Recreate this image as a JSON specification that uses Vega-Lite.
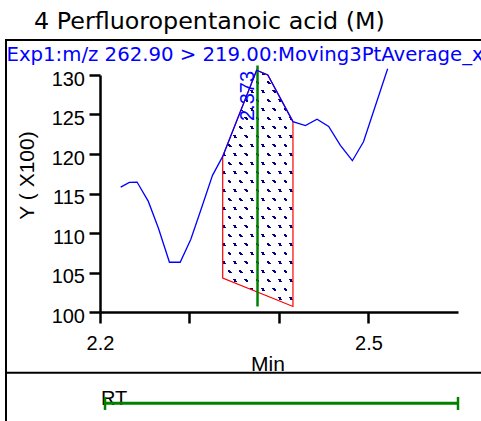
{
  "$schema": "https://vega.github.io/schema/vega-lite/v6.json",
  "width": 481,
  "height": 421,
  "autosize": {"type": "none"},
  "padding": 0,
  "background": "white",
  "config": {"view": {"stroke": null}, "font": "Liberation Sans", "axis": {"grid": false}},
  "datasets": {
    "chrom": [
      {"t": 2.2231, "y": 115.8},
      {"t": 2.2328, "y": 116.4},
      {"t": 2.2414, "y": 116.45},
      {"t": 2.2540, "y": 114.0},
      {"t": 2.2653, "y": 110.6},
      {"t": 2.2776, "y": 106.3},
      {"t": 2.2896, "y": 106.3},
      {"t": 2.3015, "y": 109.2},
      {"t": 2.3138, "y": 113.3},
      {"t": 2.3257, "y": 117.3},
      {"t": 2.3371, "y": 119.7, "base": 104.3},
      {"t": 2.3750, "y": 130.6, "base": 102.56},
      {"t": 2.3875, "y": 130.0, "base": 101.99},
      {"t": 2.4156, "y": 124.1, "base": 100.7},
      {"t": 2.4295, "y": 123.6},
      {"t": 2.4425, "y": 124.4},
      {"t": 2.4555, "y": 123.5},
      {"t": 2.4686, "y": 121.1},
      {"t": 2.4820, "y": 119.15},
      {"t": 2.4944, "y": 121.55},
      {"t": 2.5214, "y": 130.8}
    ],
    "peak": [{"rt": 2.376, "label": "2.373", "bottom": 100.7, "top": 131.2}],
    "rtwin": [{"start": 2.2056, "end": 2.6, "name": "RT"}]
  },
  "layer": [
    {
      "data": {"values": [{}]},
      "mark": {"type": "rule", "color": "black", "strokeWidth": 2},
      "encoding": {
        "x": {"datum": 2.09497, "type": "quantitative", "scale": {"domain": [2.2, 2.6], "range": [100, 458], "nice": false, "zero": false}},
        "x2": {"datum": 2.67},
        "y": {"datum": 134.43, "type": "quantitative", "scale": {"domain": [100, 130], "range": [312, 75], "nice": false, "zero": false}}
      }
    },
    {
      "data": {"values": [{}]},
      "mark": {"type": "rule", "color": "black", "strokeWidth": 2},
      "encoding": {
        "x": {"datum": 2.09497, "type": "quantitative", "scale": {"domain": [2.2, 2.6], "range": [100, 458], "nice": false, "zero": false}},
        "x2": {"datum": 2.67},
        "y": {"datum": 92.3, "type": "quantitative", "scale": {"domain": [100, 130], "range": [312, 75], "nice": false, "zero": false}}
      }
    },
    {
      "data": {"values": [{}]},
      "mark": {"type": "rule", "color": "black", "strokeWidth": 2},
      "encoding": {
        "x": {"datum": 2.09497, "type": "quantitative", "scale": {"domain": [2.2, 2.6], "range": [100, 458], "nice": false, "zero": false}},
        "y": {"datum": 134.56, "type": "quantitative", "scale": {"domain": [100, 130], "range": [312, 75], "nice": false, "zero": false}},
        "y2": {"datum": 84}
      }
    },
    {
      "data": {"name": "chrom"},
      "transform": [{"filter": "isValid(datum.base)"}],
      "mark": {"type": "area", "fill": "#000080", "fillOpacity": 1},
      "encoding": {
        "x": {"field": "t", "type": "quantitative", "scale": {"domain": [2.2, 2.6], "range": [100, 458], "nice": false, "zero": false}},
        "y": {"field": "y", "type": "quantitative", "scale": {"domain": [100, 130], "range": [312, 75], "nice": false, "zero": false}},
        "y2": {"field": "base"}
      }
    },
    {
      "data": {"name": "chrom"},
      "transform": [{"filter": "isValid(datum.base)"}],
      "mark": {
        "type": "area",
        "fill": {
          "gradient": "linear", "x1": 0, "y1": 0, "x2": 0, "y2": 1,
          "stops": [
            {"offset": 0, "color": "#ffffff"},
            {"offset": 0.0072, "color": "#ffffff"}, {"offset": 0.0072, "color": "rgba(255,255,255,0)"}, {"offset": 0.0186, "color": "rgba(255,255,255,0)"}, {"offset": 0.0186, "color": "#ffffff"},
            {"offset": 0.0453, "color": "#ffffff"}, {"offset": 0.0453, "color": "rgba(255,255,255,0)"}, {"offset": 0.0567, "color": "rgba(255,255,255,0)"}, {"offset": 0.0567, "color": "#ffffff"},
            {"offset": 0.0834, "color": "#ffffff"}, {"offset": 0.0834, "color": "rgba(255,255,255,0)"}, {"offset": 0.0948, "color": "rgba(255,255,255,0)"}, {"offset": 0.0948, "color": "#ffffff"},
            {"offset": 0.1215, "color": "#ffffff"}, {"offset": 0.1215, "color": "rgba(255,255,255,0)"}, {"offset": 0.1329, "color": "rgba(255,255,255,0)"}, {"offset": 0.1329, "color": "#ffffff"},
            {"offset": 0.1596, "color": "#ffffff"}, {"offset": 0.1596, "color": "rgba(255,255,255,0)"}, {"offset": 0.1710, "color": "rgba(255,255,255,0)"}, {"offset": 0.1710, "color": "#ffffff"},
            {"offset": 0.1977, "color": "#ffffff"}, {"offset": 0.1977, "color": "rgba(255,255,255,0)"}, {"offset": 0.2091, "color": "rgba(255,255,255,0)"}, {"offset": 0.2091, "color": "#ffffff"},
            {"offset": 0.2358, "color": "#ffffff"}, {"offset": 0.2358, "color": "rgba(255,255,255,0)"}, {"offset": 0.2472, "color": "rgba(255,255,255,0)"}, {"offset": 0.2472, "color": "#ffffff"},
            {"offset": 0.2739, "color": "#ffffff"}, {"offset": 0.2739, "color": "rgba(255,255,255,0)"}, {"offset": 0.2853, "color": "rgba(255,255,255,0)"}, {"offset": 0.2853, "color": "#ffffff"},
            {"offset": 0.3120, "color": "#ffffff"}, {"offset": 0.3120, "color": "rgba(255,255,255,0)"}, {"offset": 0.3234, "color": "rgba(255,255,255,0)"}, {"offset": 0.3234, "color": "#ffffff"},
            {"offset": 0.3501, "color": "#ffffff"}, {"offset": 0.3501, "color": "rgba(255,255,255,0)"}, {"offset": 0.3615, "color": "rgba(255,255,255,0)"}, {"offset": 0.3615, "color": "#ffffff"},
            {"offset": 0.3882, "color": "#ffffff"}, {"offset": 0.3882, "color": "rgba(255,255,255,0)"}, {"offset": 0.3996, "color": "rgba(255,255,255,0)"}, {"offset": 0.3996, "color": "#ffffff"},
            {"offset": 0.4263, "color": "#ffffff"}, {"offset": 0.4263, "color": "rgba(255,255,255,0)"}, {"offset": 0.4377, "color": "rgba(255,255,255,0)"}, {"offset": 0.4377, "color": "#ffffff"},
            {"offset": 0.4644, "color": "#ffffff"}, {"offset": 0.4644, "color": "rgba(255,255,255,0)"}, {"offset": 0.4758, "color": "rgba(255,255,255,0)"}, {"offset": 0.4758, "color": "#ffffff"},
            {"offset": 0.5025, "color": "#ffffff"}, {"offset": 0.5025, "color": "rgba(255,255,255,0)"}, {"offset": 0.5139, "color": "rgba(255,255,255,0)"}, {"offset": 0.5139, "color": "#ffffff"},
            {"offset": 0.5406, "color": "#ffffff"}, {"offset": 0.5406, "color": "rgba(255,255,255,0)"}, {"offset": 0.5520, "color": "rgba(255,255,255,0)"}, {"offset": 0.5520, "color": "#ffffff"},
            {"offset": 0.5787, "color": "#ffffff"}, {"offset": 0.5787, "color": "rgba(255,255,255,0)"}, {"offset": 0.5901, "color": "rgba(255,255,255,0)"}, {"offset": 0.5901, "color": "#ffffff"},
            {"offset": 0.6168, "color": "#ffffff"}, {"offset": 0.6168, "color": "rgba(255,255,255,0)"}, {"offset": 0.6282, "color": "rgba(255,255,255,0)"}, {"offset": 0.6282, "color": "#ffffff"},
            {"offset": 0.6549, "color": "#ffffff"}, {"offset": 0.6549, "color": "rgba(255,255,255,0)"}, {"offset": 0.6663, "color": "rgba(255,255,255,0)"}, {"offset": 0.6663, "color": "#ffffff"},
            {"offset": 0.6930, "color": "#ffffff"}, {"offset": 0.6930, "color": "rgba(255,255,255,0)"}, {"offset": 0.7044, "color": "rgba(255,255,255,0)"}, {"offset": 0.7044, "color": "#ffffff"},
            {"offset": 0.7311, "color": "#ffffff"}, {"offset": 0.7311, "color": "rgba(255,255,255,0)"}, {"offset": 0.7425, "color": "rgba(255,255,255,0)"}, {"offset": 0.7425, "color": "#ffffff"},
            {"offset": 0.7692, "color": "#ffffff"}, {"offset": 0.7692, "color": "rgba(255,255,255,0)"}, {"offset": 0.7806, "color": "rgba(255,255,255,0)"}, {"offset": 0.7806, "color": "#ffffff"},
            {"offset": 0.8073, "color": "#ffffff"}, {"offset": 0.8073, "color": "rgba(255,255,255,0)"}, {"offset": 0.8187, "color": "rgba(255,255,255,0)"}, {"offset": 0.8187, "color": "#ffffff"},
            {"offset": 0.8454, "color": "#ffffff"}, {"offset": 0.8454, "color": "rgba(255,255,255,0)"}, {"offset": 0.8568, "color": "rgba(255,255,255,0)"}, {"offset": 0.8568, "color": "#ffffff"},
            {"offset": 0.8835, "color": "#ffffff"}, {"offset": 0.8835, "color": "rgba(255,255,255,0)"}, {"offset": 0.8949, "color": "rgba(255,255,255,0)"}, {"offset": 0.8949, "color": "#ffffff"},
            {"offset": 0.9216, "color": "#ffffff"}, {"offset": 0.9216, "color": "rgba(255,255,255,0)"}, {"offset": 0.9330, "color": "rgba(255,255,255,0)"}, {"offset": 0.9330, "color": "#ffffff"},
            {"offset": 0.9597, "color": "#ffffff"}, {"offset": 0.9597, "color": "rgba(255,255,255,0)"}, {"offset": 0.9711, "color": "rgba(255,255,255,0)"}, {"offset": 0.9711, "color": "#ffffff"},
            {"offset": 1, "color": "#ffffff"}
          ]
        }
      },
      "encoding": {
        "x": {"field": "t", "type": "quantitative", "scale": {"domain": [2.2, 2.6], "range": [100, 458], "nice": false, "zero": false}},
        "y": {"field": "y", "type": "quantitative", "scale": {"domain": [100, 130], "range": [312, 75], "nice": false, "zero": false}},
        "y2": {"field": "base"}
      }
    },
    {
      "data": {"name": "chrom"},
      "transform": [{"filter": "isValid(datum.base)"}],
      "mark": {
        "type": "area",
        "fill": {
          "gradient": "linear", "x1": 0, "y1": 1, "x2": 0.5755, "y2": -0.2031,
          "stops": [
            {"offset": 0, "color": "#ffffff"},
            {"offset": 0.0223, "color": "#ffffff"}, {"offset": 0.0223, "color": "rgba(255,255,255,0)"}, {"offset": 0.0347, "color": "rgba(255,255,255,0)"}, {"offset": 0.0347, "color": "#ffffff"},
            {"offset": 0.0738, "color": "#ffffff"}, {"offset": 0.0738, "color": "rgba(255,255,255,0)"}, {"offset": 0.0862, "color": "rgba(255,255,255,0)"}, {"offset": 0.0862, "color": "#ffffff"},
            {"offset": 0.1254, "color": "#ffffff"}, {"offset": 0.1254, "color": "rgba(255,255,255,0)"}, {"offset": 0.1378, "color": "rgba(255,255,255,0)"}, {"offset": 0.1378, "color": "#ffffff"},
            {"offset": 0.1769, "color": "#ffffff"}, {"offset": 0.1769, "color": "rgba(255,255,255,0)"}, {"offset": 0.1893, "color": "rgba(255,255,255,0)"}, {"offset": 0.1893, "color": "#ffffff"},
            {"offset": 0.2285, "color": "#ffffff"}, {"offset": 0.2285, "color": "rgba(255,255,255,0)"}, {"offset": 0.2409, "color": "rgba(255,255,255,0)"}, {"offset": 0.2409, "color": "#ffffff"},
            {"offset": 0.2800, "color": "#ffffff"}, {"offset": 0.2800, "color": "rgba(255,255,255,0)"}, {"offset": 0.2924, "color": "rgba(255,255,255,0)"}, {"offset": 0.2924, "color": "#ffffff"},
            {"offset": 0.3316, "color": "#ffffff"}, {"offset": 0.3316, "color": "rgba(255,255,255,0)"}, {"offset": 0.3440, "color": "rgba(255,255,255,0)"}, {"offset": 0.3440, "color": "#ffffff"},
            {"offset": 0.3831, "color": "#ffffff"}, {"offset": 0.3831, "color": "rgba(255,255,255,0)"}, {"offset": 0.3955, "color": "rgba(255,255,255,0)"}, {"offset": 0.3955, "color": "#ffffff"},
            {"offset": 0.4347, "color": "#ffffff"}, {"offset": 0.4347, "color": "rgba(255,255,255,0)"}, {"offset": 0.4471, "color": "rgba(255,255,255,0)"}, {"offset": 0.4471, "color": "#ffffff"},
            {"offset": 0.4862, "color": "#ffffff"}, {"offset": 0.4862, "color": "rgba(255,255,255,0)"}, {"offset": 0.4986, "color": "rgba(255,255,255,0)"}, {"offset": 0.4986, "color": "#ffffff"},
            {"offset": 0.5378, "color": "#ffffff"}, {"offset": 0.5378, "color": "rgba(255,255,255,0)"}, {"offset": 0.5502, "color": "rgba(255,255,255,0)"}, {"offset": 0.5502, "color": "#ffffff"},
            {"offset": 0.5893, "color": "#ffffff"}, {"offset": 0.5893, "color": "rgba(255,255,255,0)"}, {"offset": 0.6017, "color": "rgba(255,255,255,0)"}, {"offset": 0.6017, "color": "#ffffff"},
            {"offset": 0.6409, "color": "#ffffff"}, {"offset": 0.6409, "color": "rgba(255,255,255,0)"}, {"offset": 0.6533, "color": "rgba(255,255,255,0)"}, {"offset": 0.6533, "color": "#ffffff"},
            {"offset": 0.6924, "color": "#ffffff"}, {"offset": 0.6924, "color": "rgba(255,255,255,0)"}, {"offset": 0.7048, "color": "rgba(255,255,255,0)"}, {"offset": 0.7048, "color": "#ffffff"},
            {"offset": 0.7440, "color": "#ffffff"}, {"offset": 0.7440, "color": "rgba(255,255,255,0)"}, {"offset": 0.7564, "color": "rgba(255,255,255,0)"}, {"offset": 0.7564, "color": "#ffffff"},
            {"offset": 0.7955, "color": "#ffffff"}, {"offset": 0.7955, "color": "rgba(255,255,255,0)"}, {"offset": 0.8079, "color": "rgba(255,255,255,0)"}, {"offset": 0.8079, "color": "#ffffff"},
            {"offset": 0.8471, "color": "#ffffff"}, {"offset": 0.8471, "color": "rgba(255,255,255,0)"}, {"offset": 0.8595, "color": "rgba(255,255,255,0)"}, {"offset": 0.8595, "color": "#ffffff"},
            {"offset": 0.8986, "color": "#ffffff"}, {"offset": 0.8986, "color": "rgba(255,255,255,0)"}, {"offset": 0.9110, "color": "rgba(255,255,255,0)"}, {"offset": 0.9110, "color": "#ffffff"},
            {"offset": 0.9502, "color": "#ffffff"}, {"offset": 0.9502, "color": "rgba(255,255,255,0)"}, {"offset": 0.9626, "color": "rgba(255,255,255,0)"}, {"offset": 0.9626, "color": "#ffffff"},
            {"offset": 1, "color": "#ffffff"}
          ]
        }
      },
      "encoding": {
        "x": {"field": "t", "type": "quantitative", "scale": {"domain": [2.2, 2.6], "range": [100, 458], "nice": false, "zero": false}},
        "y": {"field": "y", "type": "quantitative", "scale": {"domain": [100, 130], "range": [312, 75], "nice": false, "zero": false}},
        "y2": {"field": "base"}
      }
    },
    {
      "data": {"name": "chrom"},
      "transform": [{"filter": "isValid(datum.base)"}],
      "mark": {"type": "area", "fill": "transparent", "stroke": "#ff0000", "strokeWidth": 1.2},
      "encoding": {
        "x": {"field": "t", "type": "quantitative", "scale": {"domain": [2.2, 2.6], "range": [100, 458], "nice": false, "zero": false}},
        "y": {"field": "y", "type": "quantitative", "scale": {"domain": [100, 130], "range": [312, 75], "nice": false, "zero": false}},
        "y2": {"field": "base"}
      }
    },
    {
      "data": {"name": "peak"},
      "mark": {"type": "rule", "color": "#008000", "strokeWidth": 2.5},
      "encoding": {
        "x": {"field": "rt", "type": "quantitative", "scale": {"domain": [2.2, 2.6], "range": [100, 458], "nice": false, "zero": false}},
        "y": {"field": "bottom", "type": "quantitative", "scale": {"domain": [100, 130], "range": [312, 75], "nice": false, "zero": false}},
        "y2": {"field": "top"}
      }
    },
    {
      "data": {"name": "chrom"},
      "mark": {"type": "line", "color": "#0000ff", "strokeWidth": 1.3},
      "encoding": {
        "x": {
          "field": "t", "type": "quantitative",
          "scale": {"domain": [2.2, 2.6], "range": [100, 458], "nice": false, "zero": false},
          "axis": {
            "orient": "bottom", "offset": -109, "values": [2.2, 2.3, 2.4, 2.5], "format": ".1f",
            "labelExpr": "datum.value == 2.2 || datum.value == 2.5 ? datum.label : ''",
            "grid": false, "domainColor": "black", "domainWidth": 2.5,
            "tickColor": "black", "tickWidth": 2.5, "tickSize": 11,
            "labelFont": "Liberation Sans", "labelFontSize": 20, "labelColor": "black", "labelPadding": 10,
            "labelFlush": false, "labelOverlap": false,
            "title": "Min", "titleFont": "Liberation Sans", "titleFontSize": 21, "titleFontWeight": "normal",
            "titleColor": "black", "titleX": 267.5, "titleY": 58, "titleBaseline": "alphabetic", "titleAlign": "center"
          }
        },
        "y": {
          "field": "y", "type": "quantitative",
          "scale": {"domain": [100, 130], "range": [312, 75], "nice": false, "zero": false},
          "axis": {
            "orient": "left", "offset": -100, "values": [100, 105, 110, 115, 120, 125, 130],
            "grid": false, "domainColor": "black", "domainWidth": 2.5,
            "tickColor": "black", "tickWidth": 2.5, "tickSize": 11,
            "labelFont": "Liberation Sans", "labelFontSize": 20, "labelColor": "black", "labelPadding": 4.5,
            "labelOffset": 4, "labelBaseline": "middle", "labelFlush": false, "labelOverlap": false,
            "title": "Y ( X100)", "titleFont": "Liberation Sans", "titleFontSize": 21, "titleFontWeight": "normal",
            "titleColor": "black", "titleAngle": 270, "titleX": -67, "titleY": 175, "titleAlign": "center", "titleBaseline": "alphabetic"
          }
        }
      }
    },
    {
      "data": {"name": "peak"},
      "mark": {"type": "text", "color": "#0000ff", "font": "Liberation Sans", "fontSize": 20, "angle": 270, "align": "center", "baseline": "bottom"},
      "encoding": {
        "x": {"field": "rt", "type": "quantitative", "scale": {"domain": [2.2, 2.6], "range": [100, 458], "nice": false, "zero": false}},
        "y": {"datum": 127.34, "type": "quantitative", "scale": {"domain": [100, 130], "range": [312, 75], "nice": false, "zero": false}},
        "text": {"field": "label"}
      }
    },
    {
      "data": {"values": [{"text": "4 Perfluoropentanoic acid (M)"}]},
      "mark": {"type": "text", "color": "black", "font": "DejaVu Sans", "fontSize": 23.8, "align": "left", "baseline": "alphabetic"},
      "encoding": {
        "x": {"datum": 2.1263, "type": "quantitative", "scale": {"domain": [2.2, 2.6], "range": [100, 458], "nice": false, "zero": false}},
        "y": {"datum": 135.78, "type": "quantitative", "scale": {"domain": [100, 130], "range": [312, 75], "nice": false, "zero": false}},
        "text": {"field": "text"}
      }
    },
    {
      "data": {"values": [{"text": "Exp1:m/z 262.90 > 219.00:Moving3PtAverage_x"}]},
      "mark": {"type": "text", "color": "#0000ff", "font": "DejaVu Sans", "fontSize": 19.7, "align": "left", "baseline": "alphabetic"},
      "encoding": {
        "x": {"datum": 2.0955, "type": "quantitative", "scale": {"domain": [2.2, 2.6], "range": [100, 458], "nice": false, "zero": false}},
        "y": {"datum": 131.73, "type": "quantitative", "scale": {"domain": [100, 130], "range": [312, 75], "nice": false, "zero": false}},
        "text": {"field": "text"}
      }
    },
    {
      "data": {"name": "rtwin"},
      "mark": {"type": "text", "color": "black", "font": "Liberation Sans", "fontSize": 20, "align": "left", "baseline": "alphabetic"},
      "encoding": {
        "x": {"datum": 2.2011, "type": "quantitative", "scale": {"domain": [2.2, 2.6], "range": [100, 458], "nice": false, "zero": false}},
        "y": {"datum": 88.23, "type": "quantitative", "scale": {"domain": [100, 130], "range": [312, 75], "nice": false, "zero": false}},
        "text": {"field": "name"}
      }
    },
    {
      "data": {"name": "rtwin"},
      "mark": {"type": "rule", "color": "#008000", "strokeWidth": 3},
      "encoding": {
        "x": {"field": "start", "type": "quantitative", "scale": {"domain": [2.2, 2.6], "range": [100, 458], "nice": false, "zero": false}},
        "x2": {"field": "end"},
        "y": {"datum": 88.44, "type": "quantitative", "scale": {"domain": [100, 130], "range": [312, 75], "nice": false, "zero": false}}
      }
    },
    {
      "data": {"name": "rtwin"},
      "mark": {"type": "rule", "color": "#008000", "strokeWidth": 2.5},
      "encoding": {
        "x": {"field": "start", "type": "quantitative", "scale": {"domain": [2.2, 2.6], "range": [100, 458], "nice": false, "zero": false}},
        "y": {"datum": 87.6, "type": "quantitative", "scale": {"domain": [100, 130], "range": [312, 75], "nice": false, "zero": false}},
        "y2": {"datum": 89.25}
      }
    },
    {
      "data": {"name": "rtwin"},
      "mark": {"type": "rule", "color": "#008000", "strokeWidth": 2.5},
      "encoding": {
        "x": {"field": "end", "type": "quantitative", "scale": {"domain": [2.2, 2.6], "range": [100, 458], "nice": false, "zero": false}},
        "y": {"datum": 87.6, "type": "quantitative", "scale": {"domain": [100, 130], "range": [312, 75], "nice": false, "zero": false}},
        "y2": {"datum": 89.25}
      }
    }
  ]
}
